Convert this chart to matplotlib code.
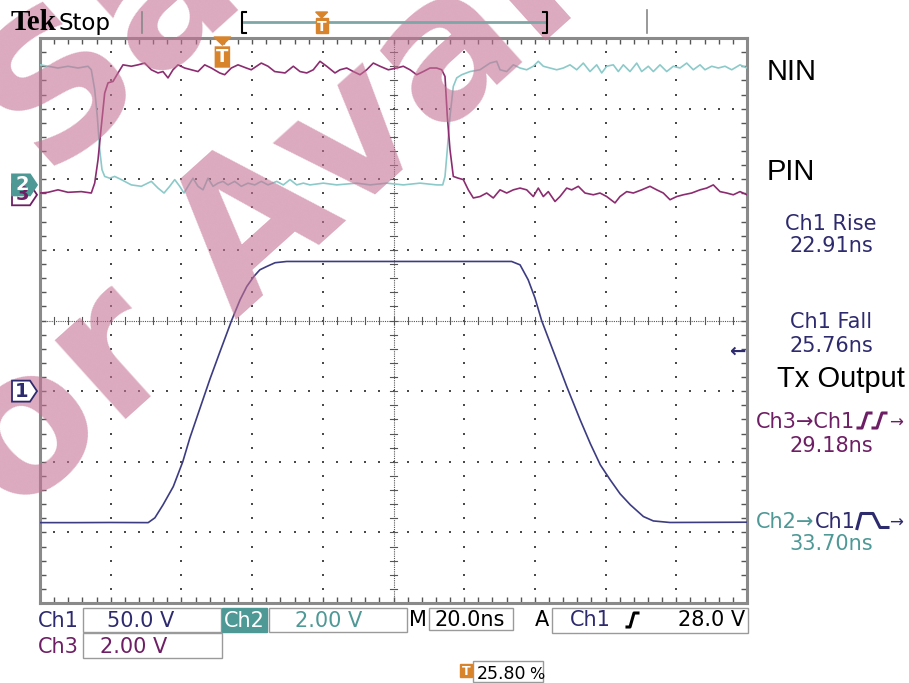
import numpy as np
import matplotlib
matplotlib.use('Agg')
import matplotlib.pyplot as plt
from matplotlib.lines import Line2D
from matplotlib.patches import Rectangle, Polygon, FancyBboxPatch
from matplotlib.transforms import blended_transform_factory

# scope settings
ns_per_div = 20.0
ch1_scale, ch1_pos = 50.0, -1.0     # V/div, ground marker (div)
ch2_scale, ch2_pos = 2.0, 1.92
ch3_scale, ch3_pos = 2.0, 1.78
trig_level = 28.0                   # V on Ch1
trig_pct = 25.80                    # trigger position in record (%)

# Ch1 : Tx output (ns, V)
ch1_t = [0, 10, 20, 30.6, 32.5, 34.8, 37.7, 40.4, 42.4, 45.3, 48.1, 50.9, 54.2, 56.6,
         58.5, 60.5, 62.2, 64.1, 66.5, 69.8, 100, 133.4, 135.8, 138.1, 140.0, 141.9,
         145.7, 149.0, 152.8, 155.7, 158.5, 161.3, 164.1, 167.0, 170.7, 173.5, 178.2, 200]
ch1_v = [-93.1, -93.1, -93.0, -93.1, -89.7, -80.5, -67.6, -49.9, -33.1, -11.8, 8.7, 27.8,
         50.0, 64.7, 74.1, 81.2, 85.9, 88.2, 90.9, 91.8, 91.8, 91.8, 89.4, 78.8, 66.1, 50.0,
         25.0, 3.3, -20.3, -37.3, -52.2, -62.8, -72.7, -80.5, -88.8, -91.9, -93.0, -92.8]

# Ch2 : NIN (ns, V)
ch2_t = [0.0, 2.26, 5.09, 7.92, 10.75, 13.58, 14.51, 15.47, 16.21, 16.89, 17.54, 18.30,
         19.72, 21.13, 23.00, 25.83, 28.66, 31.49, 33.38, 35.08, 36.69, 38.11, 39.52, 40.74,
         41.87, 43.28, 44.70, 46.11, 47.53, 48.94, 50.35, 51.77, 53.18, 55.08, 56.95, 58.84,
         60.74, 62.60, 64.50, 66.96, 68.83, 70.72, 72.62, 74.49, 76.38, 80.14, 83.93, 89.59,
         93.35, 98.08, 102.77, 107.50, 112.22, 113.92, 114.57, 115.22, 115.98, 116.92,
         117.88, 119.29, 121.67, 124.47, 127.30, 129.19, 130.13, 132.02, 133.89, 135.79,
         137.68, 139.55, 140.96, 142.38, 144.27, 146.17, 148.04, 149.93, 151.83, 153.69,
         155.59, 157.48, 158.90, 160.31, 162.18, 163.60, 165.01, 166.90, 168.80, 170.21,
         172.08, 173.50, 175.39, 177.29, 179.15, 181.05, 182.94, 184.81, 186.71, 188.12,
         190.02, 191.88, 193.78, 195.67, 198.02, 200.0]
ch2_v = [3.40, 3.36, 3.31, 3.36, 3.31, 3.36, 3.26, 2.70, 1.94, 1.00, 0.43, 0.24,
         0.19, 0.24, 0.15, 0.00, -0.04, 0.10, -0.09, -0.23, -0.04, 0.15, -0.04, -0.23,
         -0.04, 0.19, -0.04, -0.14, 0.19, -0.04, 0.05, 0.10, 0.00, 0.10, -0.04, 0.05,
         0.00, 0.10, 0.00, 0.10, 0.00, 0.15, 0.00, 0.05, 0.00, 0.05, 0.00, 0.05,
         0.00, 0.05, 0.00, 0.05, 0.00, 0.00, 0.24, 1.00, 1.94, 2.79,
         3.03, 3.12, 3.21, 3.26, 3.45, 3.50, 3.26, 3.21, 3.40, 3.31,
         3.26, 3.36, 3.50, 3.36, 3.31, 3.26, 3.31, 3.40, 3.26, 3.45,
         3.21, 3.40, 3.17, 3.36, 3.40, 3.21, 3.40, 3.21, 3.45, 3.21,
         3.36, 3.21, 3.40, 3.21, 3.36, 3.31, 3.45, 3.26, 3.40, 3.26,
         3.36, 3.31, 3.36, 3.26, 3.40, 3.31]

# Ch3 : PIN (ns, V)
ch3_t = [0, 2.26, 5.09, 7.92, 11.68, 14.51, 15.47, 16.41, 17.34, 18.30, 19.24, 20.65,
         22.07, 23.48, 25.83, 27.72, 29.62, 31.49, 33.38, 34.79, 36.21, 37.62, 39.04, 40.93,
         42.80, 44.70, 46.59, 48.46, 50.84, 52.25, 54.12, 56.01, 58.36, 59.77, 62.60, 64.50,
         66.39, 69.31, 71.66, 73.55, 75.45, 77.31, 79.21, 81.10, 83.45, 84.87, 86.76, 88.63,
         90.52, 92.42, 94.29, 96.18, 98.53, 100.91, 102.77, 104.67, 106.56, 108.43, 110.33,
         112.22, 113.64, 114.57, 115.22, 115.98, 116.92, 118.33, 119.75, 121.16, 122.58,
         124.47, 126.36, 128.23, 130.13, 132.02, 133.89, 135.79, 137.68, 139.55, 140.96,
         142.38, 143.79, 145.69, 147.10, 148.99, 150.41, 152.28, 154.17, 156.52, 158.42,
         160.31, 162.66, 164.07, 165.97, 167.84, 170.21, 172.56, 174.46, 176.33, 178.22,
         180.12, 181.98, 184.36, 186.71, 188.60, 190.47, 192.36, 194.26, 196.12, 198.02, 200.0]
ch3_v = [0.05, 0.07, 0.14, 0.07, 0.09, 0.05, 0.33, 0.99, 1.94, 2.88, 3.17, 3.21,
         3.45, 3.68, 3.64, 3.68, 3.73, 3.54, 3.45, 3.49, 3.31, 3.54, 3.68, 3.59,
         3.54, 3.49, 3.68, 3.59, 3.45, 3.40, 3.59, 3.68, 3.59, 3.54, 3.73, 3.64,
         3.49, 3.45, 3.64, 3.49, 3.45, 3.54, 3.78, 3.64, 3.45, 3.54, 3.59, 3.49,
         3.40, 3.54, 3.73, 3.64, 3.54, 3.59, 3.64, 3.54, 3.40, 3.49, 3.59,
         3.59, 3.54, 3.35, 2.22, 1.28, 0.52, 0.47, 0.43, 0.14, -0.09,
         -0.05, 0.05, -0.09, 0.14, 0.05, 0.14, 0.19, 0.14, -0.05, 0.19,
         -0.05, 0.09, -0.19, -0.05, 0.19, 0.14, 0.24, 0.05, 0.00, 0.05,
         -0.05, -0.23, -0.05, 0.09, 0.05, 0.14, 0.24, 0.14, 0.05, -0.14,
         -0.05, 0.00, 0.05, 0.14, 0.19, 0.28, 0.09, 0.05, 0.00, 0.09, 0.00]

navy = '#2e2a6e'
purple = '#6e1e64'
teal = '#4e9896'
orange = '#d8842c'
W, H = 909, 683

fig = plt.figure(figsize=(W / 100, H / 100), dpi=100)
ax = fig.add_axes([40 / W, 80 / H, 707 / W, 565 / H])
ax.set_xlim(0, 10 * ns_per_div)
ax.set_ylim(-4, 4)

# graticule
minor_x = np.arange(0, 201, 4)
minor_y = np.linspace(-4, 4, 41)
for gx in range(20, 200, 20):
    if gx != 100:
        ax.scatter(np.full(len(minor_y), gx), minor_y, s=2.5, marker='s', c='#4a4a4a', lw=0, zorder=1)
for gy in range(-3, 4):
    if gy != 0:
        ax.scatter(minor_x, np.full(len(minor_x), gy), s=2.5, marker='s', c='#4a4a4a', lw=0, zorder=1)
ax.axvline(100, color='#555555', lw=0.8, ls=(0, (1, 1)), zorder=1)
ax.axhline(0, color='#555555', lw=0.8, ls=(0, (1, 1)), zorder=1)
for y in minor_y:
    ax.plot([99.0, 101.0], [y, y], color='#555555', lw=0.8, zorder=1)
for x in minor_x:
    ax.plot([x, x], [-0.05, 0.05], color='#555555', lw=0.8, zorder=1)
ax.set_xticks(minor_x)
ax.set_yticks(minor_y)
ax.tick_params(direction='in', length=4, width=1, color='#555555', top=True, right=True,
               labelbottom=False, labelleft=False)
for sp in ax.spines.values():
    sp.set_color('#8a8a8a')
    sp.set_linewidth(2.2)

# traces
ax.plot(ch2_t, np.array(ch2_v) / ch2_scale + ch2_pos, color='#8ccaca', lw=1.2, zorder=3)
ax.plot(ch3_t, np.array(ch3_v) / ch3_scale + ch3_pos, color='#8c2c70', lw=1.2, zorder=4)
ax.plot(ch1_t, np.array(ch1_v) / ch1_scale + ch1_pos, color='#3c3c82', lw=1.2, zorder=5)


def label(x, y, s, color='black', size=15, ha='left', family='DejaVu Sans', **kw):
    fig.text(x / W, 1 - y / H, s, color=color, fontsize=size, ha=ha, va='baseline',
             family=family, **kw)


def seg(xs, ys, color, lw=1.5):
    fig.add_artist(Line2D([x / W for x in xs], [1 - y / H for y in ys], color=color, lw=lw,
                          zorder=3))


def box(x0, y0, x1, y1, fc='white', ec='#9a9a9a'):
    fig.add_artist(Rectangle((x0 / W, 1 - y1 / H), (x1 - x0) / W, (y1 - y0) / H,
                             fc=fc, ec=ec, lw=1, zorder=3))


# channel ground markers on the left
bt = blended_transform_factory(fig.transFigure, ax.transData)


def marker(pos, txt, fc, ec, tc):
    h = 10.5 / 70.6
    xs = [12, 30, 37, 30, 12]
    ys = [pos + h, pos + h, pos, pos - h, pos - h]
    fig.add_artist(Polygon(list(zip([x / W for x in xs], ys)), closed=True, fc=fc, ec=ec,
                           lw=1.3, transform=bt, zorder=3))
    fig.text(22 / W, pos, txt, transform=bt, color=tc, fontsize=14, ha='center',
             va='center', weight='bold', zorder=3)


marker(ch3_pos, '3', 'white', purple, purple)
marker(ch2_pos, '2', teal, teal, 'white')
marker(ch1_pos, '1', 'white', navy, navy)
fig.text(745 / W, trig_level / ch1_scale + ch1_pos, '\u2190', transform=bt, color=navy,
         fontsize=14, ha='right', va='center', weight='bold')

# trigger position marker on top of graticule
bt2 = blended_transform_factory(ax.transData, fig.transFigure)
tt = trig_pct / 100 * 10 * ns_per_div
fig.add_artist(Polygon([(tt - 2.4, 1 - 37 / H), (tt + 2.4, 1 - 37 / H), (tt, 1 - 45 / H)],
                       closed=True, fc=orange, ec=orange, transform=bt2, zorder=3))
fig.add_artist(FancyBboxPatch((tt - 2.0, 1 - 67 / H), 4.0, 20 / H, boxstyle='round,pad=0,rounding_size=0.01',
                              fc=orange, ec=orange, transform=bt2, mutation_aspect=0.3, zorder=3))
fig.text(tt, 1 - 57 / H, 'T', transform=bt2, color='white', fontsize=13, ha='center',
         va='center', weight='bold')

# top status line
label(11, 30, 'Tek', size=21, family='Liberation Serif', weight='bold')
label(58, 30, 'Stop', size=16.5)
seg([141.7, 141.7], [12, 33], '#888888', 1.2)
seg([646.7, 646.7], [10, 33], '#888888', 1.2)
rec0, rec1 = 244, 545
seg([rec0, rec1], [21.7, 21.7], '#7ea6a6', 2)
seg([246, 242, 242, 246], [12, 12, 33, 33], 'black', 1.5)
seg([rec1 - 2, rec1 + 2, rec1 + 2, rec1 - 2], [12, 12, 33, 33], 'black', 1.5)
tx = rec0 + trig_pct / 100 * (rec1 - rec0)
fig.add_artist(Polygon([((tx - 6) / W, 1 - 12 / H), ((tx + 6) / W, 1 - 12 / H), (tx / W, 1 - 18 / H)],
                       closed=True, fc=orange, ec=orange, zorder=3))
box(tx - 6, 18, tx + 6, 33, fc=orange, ec=orange)
label(tx, 31, 'T', color='white', size=10, ha='center', weight='bold')

# right side labels
label(767, 80, 'NIN', size=21, family='Liberation Sans')
label(767, 180, 'PIN', size=21, family='Liberation Sans')
label(777, 386.7, 'Tx Output', size=21, family='Liberation Sans')
label(831, 230, 'Ch1 Rise', color=navy, ha='center')
label(831, 252, '22.91ns', color=navy, ha='center')
label(831, 328, 'Ch1 Fall', color=navy, ha='center')
label(831, 352, '25.76ns', color=navy, ha='center')
label(756, 428, 'Ch3\u2192Ch1', color=purple)
for x0 in (858, 873):
    seg([x0, x0 + 4, x0 + 9, x0 + 13], [428, 428, 413, 413], purple, 2.2)
label(889, 428, '\u2192', color=purple, size=12)
label(831, 452, '29.18ns', color=purple, ha='center')
label(756, 528, 'Ch2\u2192', color=teal)
label(815, 528, 'Ch1', color=navy)
seg([857, 861, 873, 880, 888], [528.5, 513.5, 513.5, 527.5, 527.5], navy, 2.2)
label(889, 528, '\u2192', color=navy, size=12)
label(831, 550, '33.70ns', color=teal, ha='center')

# bottom status area
box(83, 608, 221, 632)
box(222, 608, 267, 632, fc=teal, ec=teal)
box(269, 608, 407, 632)
box(429, 608, 513, 630)
box(552, 608, 748, 633)
box(83, 633, 222, 658)
box(473, 661, 543, 682)
label(38, 626.7, 'Ch1', color=navy)
label(107, 626.7, '50.0 V', color=navy)
label(224, 626.7, 'Ch2', color='white')
label(295, 626.7, '2.00 V', color=teal)
label(409, 626, 'M')
label(435, 626, '20.0ns')
label(535, 626, 'A')
label(570, 626, 'Ch1', color=navy)
seg([627, 630, 634, 638], [627, 627, 613, 613], 'black', 2.2)
label(745, 626, '28.0 V', ha='right')
label(38, 653.3, 'Ch3', color=purple)
label(100, 653.3, '2.00 V', color=purple)
box(460, 664, 472, 677, fc=orange, ec=orange)
label(466, 675, 'T', color='white', size=9, ha='center', weight='bold')
label(477, 679, '25.80', size=12.5)
label(529, 679, '%', size=11.5)

# watermark: two rotated lines, mostly outside the picture
wm = dict(fontsize=140, weight='bold', family='DejaVu Sans', color='#c57193', alpha=0.6,
          rotation=42, rotation_mode='anchor', va='baseline', zorder=2.5)
fig.text(484 / W, 894 / H, 'Contact Sales', ha='right', **wm)
fig.text(-48 / W, 107 / H, 'for Availability', ha='left', **wm)

fig.savefig('out.png', dpi=100)
